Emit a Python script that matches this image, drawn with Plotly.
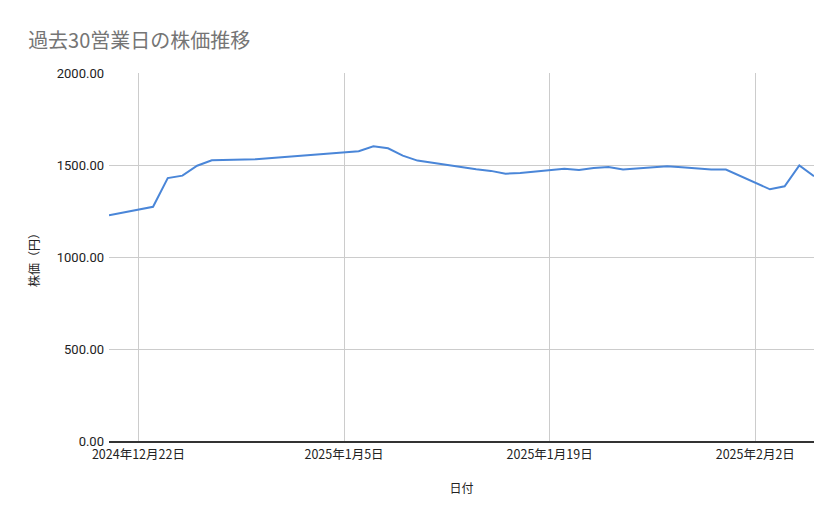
import plotly.graph_objects as go

# 過去30営業日の終値
dates = [
    "2024-12-20", "2024-12-23", "2024-12-24", "2024-12-25", "2024-12-26",
    "2024-12-27", "2024-12-30", "2025-01-06", "2025-01-07", "2025-01-08",
    "2025-01-09", "2025-01-10", "2025-01-14", "2025-01-15", "2025-01-16",
    "2025-01-17", "2025-01-20", "2025-01-21", "2025-01-22", "2025-01-23",
    "2025-01-24", "2025-01-27", "2025-01-28", "2025-01-29", "2025-01-30",
    "2025-01-31", "2025-02-03", "2025-02-04", "2025-02-05", "2025-02-06",
]
prices = [
    1227, 1273, 1429, 1442, 1496,
    1526, 1531, 1575, 1602, 1591,
    1551, 1524, 1477, 1468, 1453,
    1457, 1480, 1473, 1484, 1489,
    1475, 1493, 1488, 1481, 1475,
    1475, 1368, 1384, 1498, 1439,
]

tick_dates = ["2024-12-22", "2025-01-05", "2025-01-19", "2025-02-02"]
tick_labels = ["2024年12月22日", "2025年1月5日", "2025年1月19日", "2025年2月2日"]
y_ticks = [0, 500, 1000, 1500, 2000]

FONT = "Roboto, 'Noto Sans CJK JP', sans-serif"
JP = "'Noto Sans CJK JP', sans-serif"

fig = go.Figure()
fig.add_trace(go.Scatter(
    x=dates, y=prices, mode="lines",
    line=dict(color="#4a86d8", width=2),
    hovertemplate="%{x}<br>%{y:.2f}<extra></extra>",
))

# ページの余白(8px)分を差し引いた余白
fig.update_layout(
    width=839, height=519,
    paper_bgcolor="white", plot_bgcolor="white",
    margin=dict(l=101, r=33, t=65, b=86),
    font=dict(family=FONT, size=12, color="#222222"),
    title=dict(
        text="過去30営業日の株価推移",
        x=0.024, xanchor="left", y=0.937, yanchor="middle",
        font=dict(family=JP, size=20, color="#757575"),
    ),
    showlegend=False,
)

fig.update_xaxes(
    range=["2024-12-20", "2025-02-06"],
    tickvals=tick_dates, ticktext=tick_labels,
    showgrid=True, gridcolor="#cccccc", gridwidth=1,
    showline=True, linecolor="#333333", linewidth=1.5,
    ticks="", ticklabelstandoff=1,
    tickfont=dict(family=JP, size=12.5, color="#222222"),
    title=dict(text="日付", standoff=23, font=dict(family=JP, size=12, color="#222222")),
)

fig.update_yaxes(
    range=[0, 2000],
    tickvals=y_ticks, tickformat=".2f",
    showgrid=True, gridcolor="#cccccc", gridwidth=1,
    zeroline=False, ticks="", ticklabelstandoff=4,
    tickfont=dict(size=13, color="#222222"),
    title=dict(text="株価（円）", standoff=14, font=dict(family=JP, size=12, color="#222222")),
)

fig.write_html("out.html")
